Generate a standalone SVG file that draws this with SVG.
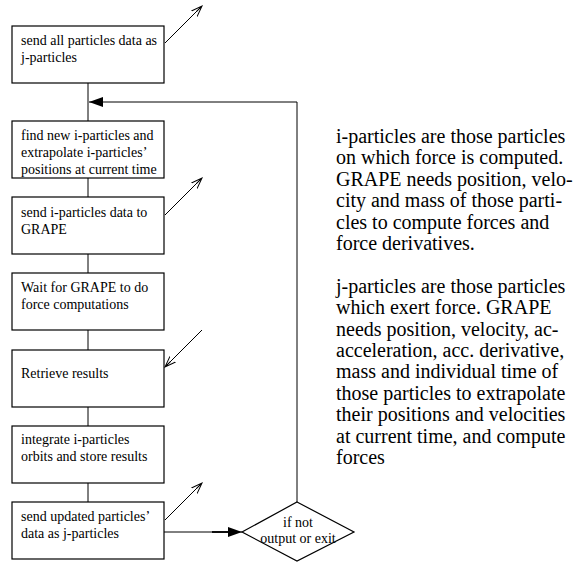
<svg xmlns="http://www.w3.org/2000/svg" width="576" height="562" viewBox="0 0 576 562">
  <defs>
    <style>
      .box { fill: #ffffff; stroke: #000000; stroke-width: 1.2; }
      .line { fill: none; stroke: #000000; stroke-width: 1; }
      .t { font-family: "Liberation Serif", "Times New Roman", serif; font-size: 14px; fill: #000000; }
      .d { font-family: "Liberation Serif", "Times New Roman", serif; font-size: 20px; fill: #000000; }
      .dm { font-family: "Liberation Serif", "Times New Roman", serif; font-size: 14px; fill: #000000; text-anchor: middle; }
    </style>
    <marker id="open" viewBox="0 0 12 10" refX="11" refY="5" markerWidth="12" markerHeight="10" markerUnits="userSpaceOnUse" orient="auto">
      <path d="M0,1 L11,5 L0,9 M3,5 L11,5" fill="none" stroke="#000" stroke-width="1"/>
    </marker>
    <marker id="solid" viewBox="0 0 14 10" refX="14" refY="5" markerWidth="14" markerHeight="10" markerUnits="userSpaceOnUse" orient="auto">
      <path d="M0,0 L14,5 L0,10 Z" fill="#000" stroke="none"/>
    </marker>
  </defs>
  <rect width="576" height="562" fill="#ffffff"/>

  <g id="connectors">
    <line class="line" x1="88" y1="83" x2="88" y2="121"/>
    <line class="line" x1="88" y1="178" x2="88" y2="197"/>
    <line class="line" x1="88" y1="254" x2="88" y2="273"/>
    <line class="line" x1="88" y1="330" x2="88" y2="350"/>
    <line class="line" x1="88" y1="407" x2="88" y2="426"/>
    <line class="line" x1="88" y1="483" x2="88" y2="502"/>
    <polyline class="line" points="297,502 297,102 89,102" marker-end="url(#solid)"/>
    <line class="line" x1="164" y1="532" x2="242" y2="532" marker-end="url(#solid)"/>
    <line x1="212" y1="532" x2="230" y2="532" stroke="#000" stroke-width="1.8"/>
    <line class="line" x1="165" y1="43" x2="202" y2="6" marker-end="url(#open)"/>
    <line class="line" x1="165" y1="215" x2="202" y2="178" marker-end="url(#open)"/>
    <line class="line" x1="202" y1="330" x2="165" y2="367" marker-end="url(#open)"/>
    <line class="line" x1="165" y1="520" x2="202" y2="483" marker-end="url(#open)"/>
  </g>

  <g id="n1">
    <rect class="box" x="12" y="26" width="152" height="57"/>
    <text class="t" x="21" y="45">send all particles data as</text>
    <text class="t" x="21" y="62">j-particles</text>
  </g>
  <g id="n2">
    <rect class="box" x="12" y="121" width="152" height="57"/>
    <text class="t" x="21" y="140">find new i-particles and</text>
    <text class="t" x="21" y="157">extrapolate i-particles’</text>
    <text class="t" x="21" y="174">positions at current time</text>
  </g>
  <g id="n3">
    <rect class="box" x="12" y="197" width="152" height="57"/>
    <text class="t" x="21" y="217">send i-particles data to</text>
    <text class="t" x="21" y="234">GRAPE</text>
  </g>
  <g id="n4">
    <rect class="box" x="12" y="273" width="152" height="57"/>
    <text class="t" x="21" y="292">Wait for GRAPE to do</text>
    <text class="t" x="21" y="309">force computations</text>
  </g>
  <g id="n5">
    <rect class="box" x="12" y="350" width="152" height="57"/>
    <text class="t" x="21" y="378">Retrieve results</text>
  </g>
  <g id="n6">
    <rect class="box" x="12" y="426" width="152" height="57"/>
    <text class="t" x="21" y="444">integrate i-particles</text>
    <text class="t" x="21" y="461">orbits and store results</text>
  </g>
  <g id="n7">
    <rect class="box" x="12" y="502" width="152" height="57"/>
    <text class="t" x="21" y="521">send updated particles’</text>
    <text class="t" x="21" y="538">data as j-particles</text>
  </g>
  <g id="decision">
    <polygon class="box" points="297,502 354,532 297,561 242,532"/>
    <text class="dm" x="298" y="527">if not</text>
    <text class="dm" x="298" y="543">output or exit</text>
  </g>

  <g id="notes">
    <text class="d" x="336" y="143">i-particles are those particles</text>
    <text class="d" x="336" y="164.4">on which force is computed.</text>
    <text class="d" x="336" y="185.8">GRAPE needs position, velo-</text>
    <text class="d" x="336" y="207.2">city and mass of those parti-</text>
    <text class="d" x="336" y="228.6">cles to compute forces and</text>
    <text class="d" x="336" y="250">force derivatives.</text>
    <text class="d" x="336" y="292.8">j-particles are those particles</text>
    <text class="d" x="336" y="314.2">which exert force. GRAPE</text>
    <text class="d" x="336" y="335.6">needs position, velocity, ac-</text>
    <text class="d" x="336" y="357">acceleration, acc. derivative,</text>
    <text class="d" x="336" y="378.4">mass and individual time of</text>
    <text class="d" x="336" y="399.8">those particles to extrapolate</text>
    <text class="d" x="336" y="421.2">their positions and velocities</text>
    <text class="d" x="336" y="442.6">at current time, and compute</text>
    <text class="d" x="336" y="464">forces</text>
  </g>
</svg>
